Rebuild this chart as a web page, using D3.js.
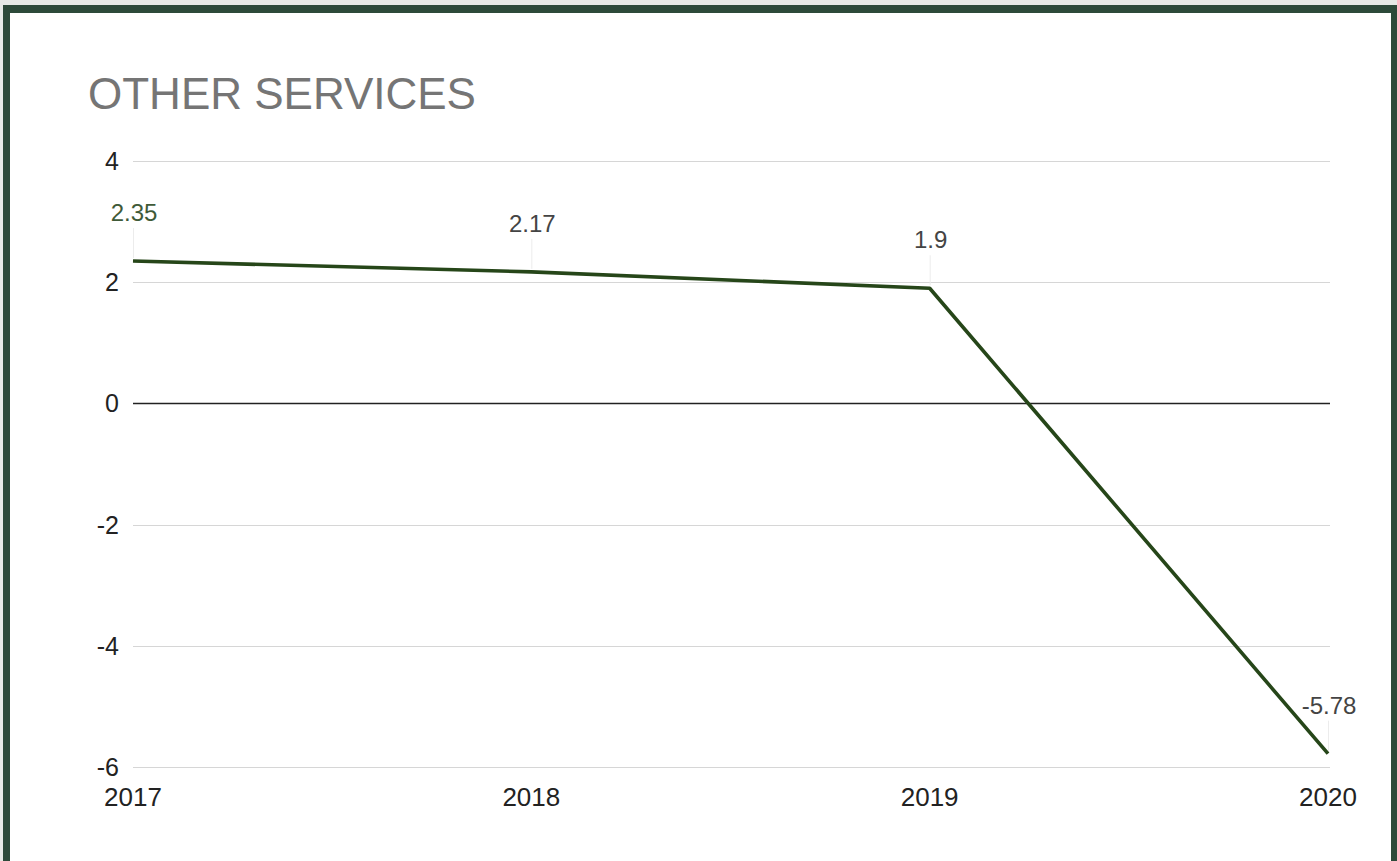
<!DOCTYPE html>
<html>
<head>
<meta charset="utf-8">
<script src="https://cdn.jsdelivr.net/npm/d3@7"></script>
<style>
  body { margin: 0; background: #e7eae7; }
  svg { display: block; font-family: "Liberation Sans", Arial, sans-serif; }
</style>
</head>
<body>
<svg width="1397" height="861"></svg>
<script>
// chart data
var years = ["2017", "2018", "2019", "2020"];
var values = [2.35, 2.17, 1.9, -5.78];
var yTicks = [4, 2, 0, -2, -4, -6];
var title = "OTHER SERVICES";

var svg = d3.select("svg");

// frame: dark green border and white card
svg.append("rect").attr("x", 3).attr("y", 5).attr("width", 1394).attr("height", 856).attr("fill", "#2d4a3a");
svg.append("rect").attr("x", 10).attr("y", 13).attr("width", 1381).attr("height", 848).attr("fill", "#ffffff");

var x = d3.scalePoint().domain(years).range([133, 1328]);
var y = d3.scaleLinear().domain([-6, 4]).range([767, 161]);

svg.append("text")
    .attr("x", 88).attr("y", 109)
    .attr("font-size", 44)
    .attr("fill", "#757575")
    .text(title);

// gridlines
svg.append("g")
    .selectAll("line")
    .data(yTicks)
    .enter()
    .append("line")
    .attr("x1", 133).attr("x2", 1330)
    .attr("y1", function (d) { return Math.round(y(d)) + 0.5; })
    .attr("y2", function (d) { return Math.round(y(d)) + 0.5; })
    .attr("stroke", function (d) { return d === 0 ? "#222222" : "#d6d6d6"; })
    .attr("stroke-width", function (d) { return d === 0 ? 1.5 : 1.2; });

// y axis labels
svg.append("g")
    .selectAll("text")
    .data(yTicks)
    .enter()
    .append("text")
    .attr("x", 119)
    .attr("y", function (d) { return y(d) + 9; })
    .attr("text-anchor", "end")
    .attr("font-size", 25)
    .attr("fill", "#222")
    .text(function (d) { return d; });

// x axis labels
svg.append("g")
    .selectAll("text")
    .data(years)
    .enter()
    .append("text")
    .attr("x", function (d) { return x(d); })
    .attr("y", 806)
    .attr("text-anchor", "middle")
    .attr("font-size", 26)
    .attr("fill", "#222")
    .text(function (d) { return d; });

var pts = years.map(function (d, i) { return { year: d, value: values[i] }; });

// faint leader lines from labels to points
svg.append("g")
    .selectAll("line")
    .data(pts)
    .enter()
    .append("line")
    .attr("x1", function (d) { return x(d.year) + 0.5; })
    .attr("x2", function (d) { return x(d.year) + 0.5; })
    .attr("y1", function (d) { return y(d.value) - 33; })
    .attr("y2", function (d) { return y(d.value) - 3; })
    .attr("stroke", "#ececec")
    .attr("stroke-width", 1);

// the line
var line = d3.line()
    .x(function (d) { return x(d.year); })
    .y(function (d) { return y(d.value); });

svg.append("path")
    .datum(pts)
    .attr("d", line)
    .attr("fill", "none")
    .attr("stroke", "#264619")
    .attr("stroke-width", 3.6)
    .attr("stroke-linejoin", "round");

// data labels
svg.append("g")
    .selectAll("text")
    .data(pts)
    .enter()
    .append("text")
    .attr("x", function (d) { return x(d.year) + 1; })
    .attr("y", function (d) { return y(d.value) - 40; })
    .attr("text-anchor", "middle")
    .attr("font-size", 24)
    .attr("fill", function (d, i) { return i === 0 ? "#3f5a38" : "#444"; })
    .text(function (d) { return d.value; });
</script>
</body>
</html>
